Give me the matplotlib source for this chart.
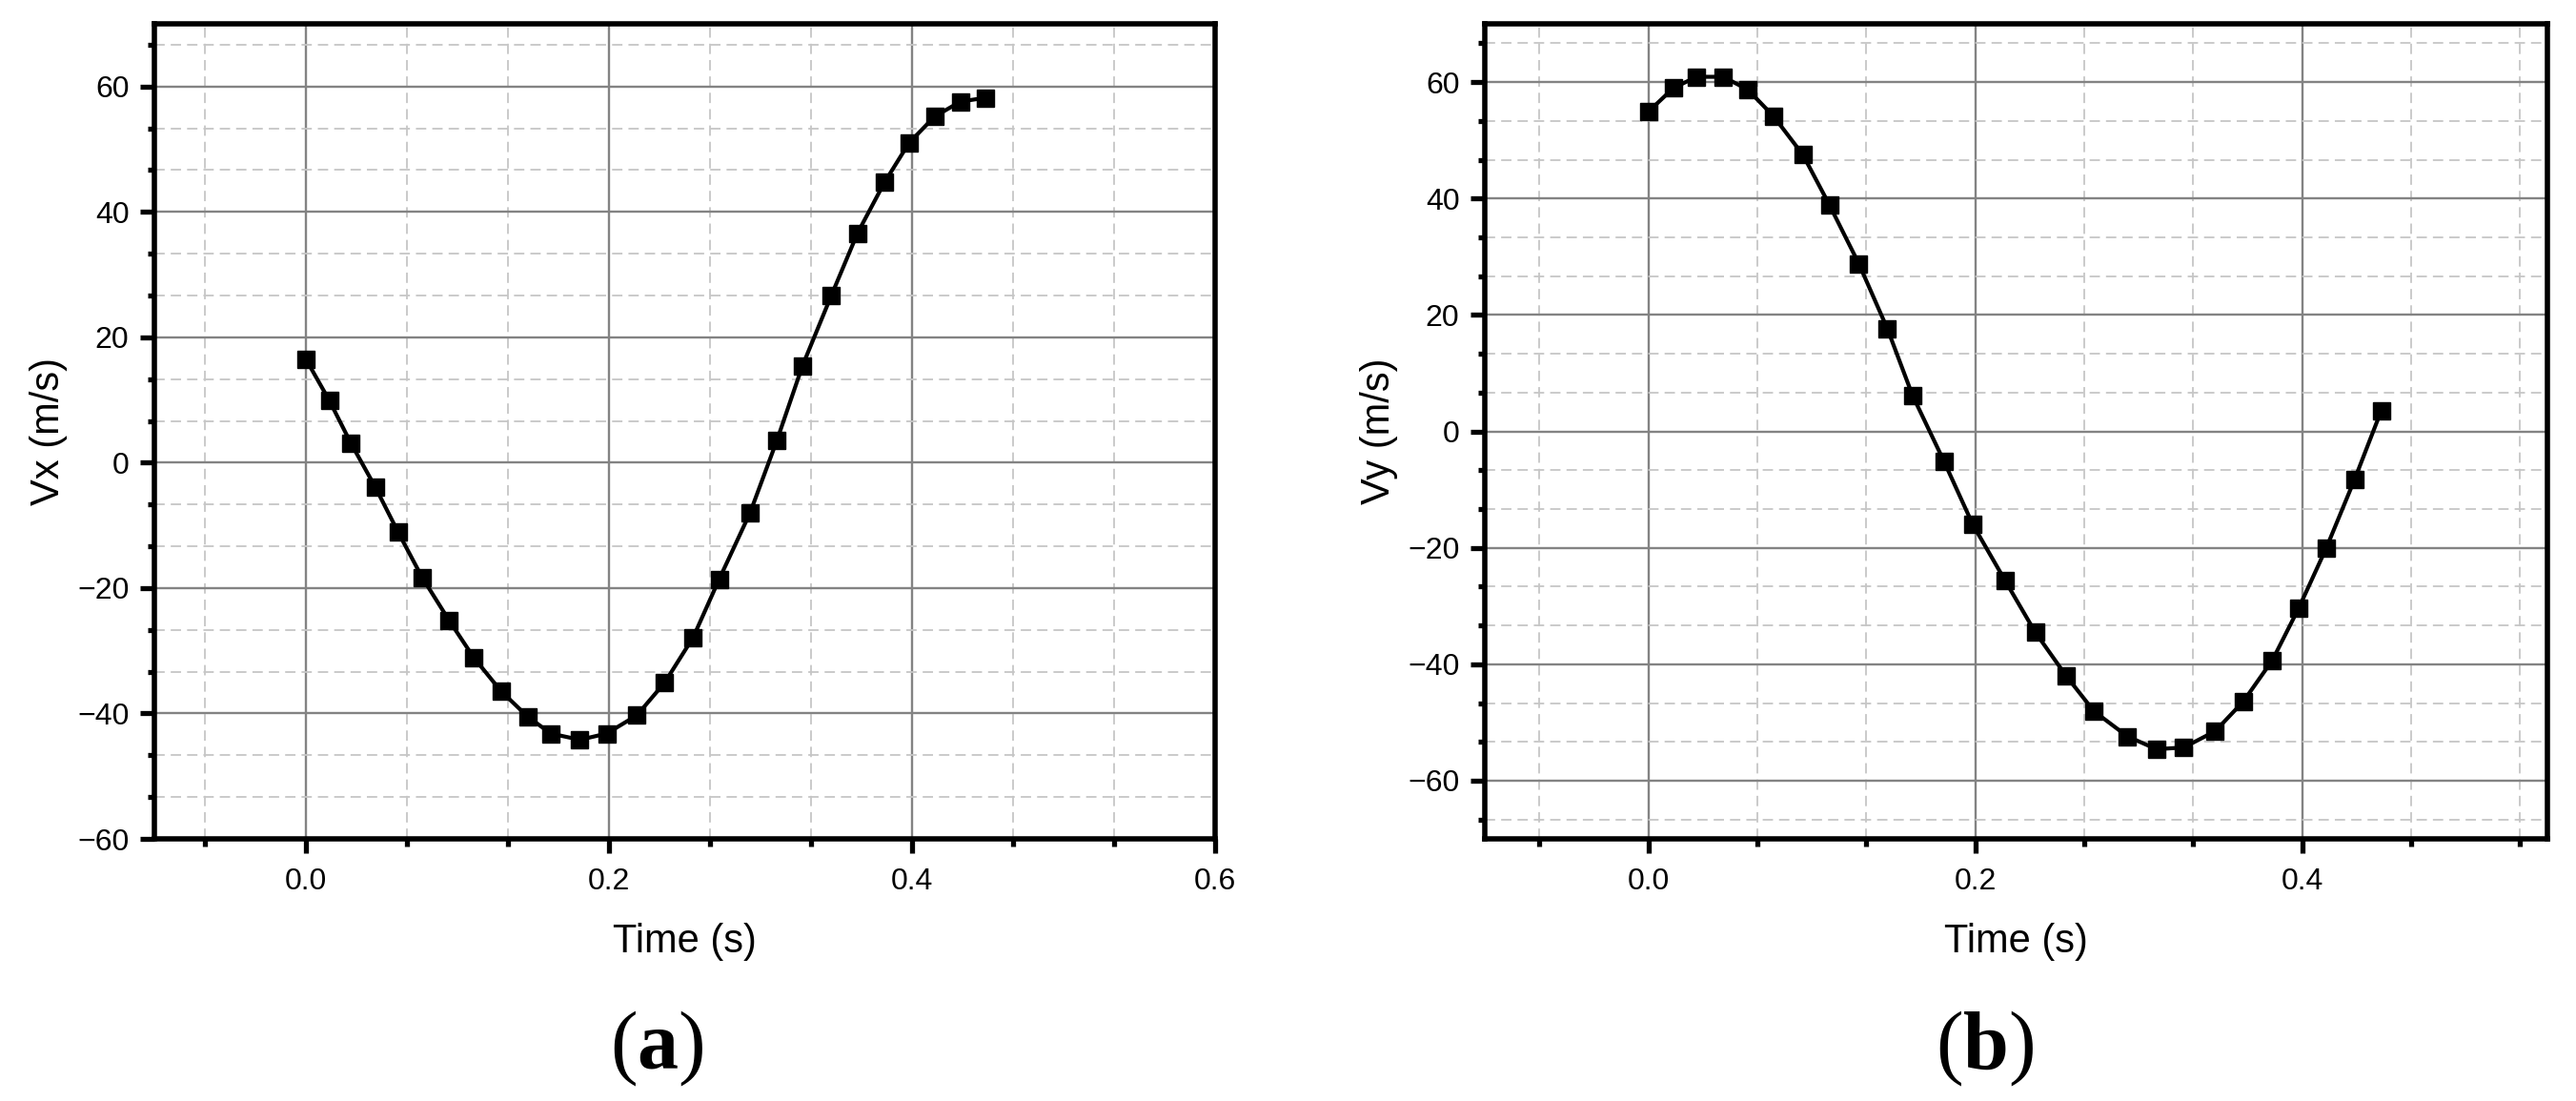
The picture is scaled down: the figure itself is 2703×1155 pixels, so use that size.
import matplotlib
matplotlib.use('Agg')
import matplotlib.pyplot as plt
from matplotlib.ticker import MultipleLocator, AutoMinorLocator

# ---- data ----
time_s = [0.0, 0.0155, 0.0296, 0.0458, 0.0609, 0.0767, 0.0946, 0.1108, 0.1288,
          0.1463, 0.1616, 0.1808, 0.1985, 0.2184, 0.2367, 0.2556, 0.2727, 0.2931,
          0.3109, 0.3276, 0.3468, 0.3640, 0.3818, 0.3980, 0.4148, 0.4320, 0.4483]
vx = [16.5, 9.9, 3.15, -3.9, -11.1, -18.3, -25.2, -31.1, -36.45, -40.5, -43.2,
      -44.2, -43.2, -40.3, -35.1, -27.85, -18.6, -8.0, 3.6, 15.4, 26.7, 36.6,
      44.7, 51.0, 55.2, 57.6, 58.2]
vy = [54.9, 59.0, 60.9, 60.9, 58.7, 54.1, 47.5, 38.9, 28.8, 17.6, 6.2, -5.1,
      -16.0, -25.7, -34.5, -42.0, -48.1, -52.4, -54.6, -54.3, -51.5, -46.4,
      -39.3, -30.3, -20.0, -8.3, 3.5]

x_label = "Time (s)"
y_labels = ["Vx (m/s)", "Vy (m/s)"]
panel_labels = [r"$\mathrm{(}\mathbf{a}\mathrm{)}$", r"$\mathrm{(}\mathbf{b}\mathrm{)}$"]

plt.rcParams['font.family'] = ['Liberation Sans', 'DejaVu Sans']
plt.rcParams['mathtext.fontset'] = 'custom'
plt.rcParams['mathtext.rm'] = 'Liberation Serif'
plt.rcParams['mathtext.bf'] = 'Liberation Serif:bold'

W, H = 2703, 1155
fig = plt.figure(figsize=(W / 100, H / 100), dpi=100)
ax1 = fig.add_axes([162 / W, 275 / H, 1113 / W, 855 / H])
ax2 = fig.add_axes([1558 / W, 275 / H, 1115 / W, 855 / H])


def style(ax, xlim, ylim, ylabel):
    ax.set_xlim(*xlim)
    ax.set_ylim(*ylim)
    ax.xaxis.set_major_locator(MultipleLocator(0.2))
    ax.xaxis.set_minor_locator(AutoMinorLocator(3))
    ax.yaxis.set_major_locator(MultipleLocator(20))
    ax.yaxis.set_minor_locator(AutoMinorLocator(3))
    ax.set_axisbelow(True)
    ax.grid(which='major', color='#838383', lw=1.7, ls='-')
    ax.grid(which='minor', color='#c6c6c6', lw=1.3, ls=(0, (6, 3.5)))
    for s in ax.spines.values():
        s.set_linewidth(4.0)
        s.set_color('black')
    ax.tick_params(which='major', direction='out', length=10.5, width=3.8,
                   labelsize=23, top=False, right=False)
    ax.tick_params(which='minor', direction='out', length=5.4, width=3.8,
                   top=False, right=False)
    ax.tick_params(axis='x', which='major', pad=11)
    ax.tick_params(axis='y', which='major', pad=8.6)
    ax.set_xlabel(x_label, fontsize=30, labelpad=20)
    ax.set_ylabel(ylabel, fontsize=30, labelpad=7)


ax1.plot(time_s, vx, '-s', color='black', lw=3.0, ms=13)
style(ax1, (-0.1, 0.6), (-60, 70), y_labels[0])

ax2.plot(time_s, vy, '-s', color='black', lw=3.0, ms=13)
style(ax2, (-0.1, 0.55), (-70, 70), y_labels[1])

fig.text(689 / W, 1 - 1100 / H, panel_labels[0], ha='center', va='center', fontsize=62)
fig.text(2083 / W, 1 - 1100 / H, panel_labels[1], ha='center', va='center', fontsize=62)

fig.savefig('out.png', dpi=100, facecolor='white')
